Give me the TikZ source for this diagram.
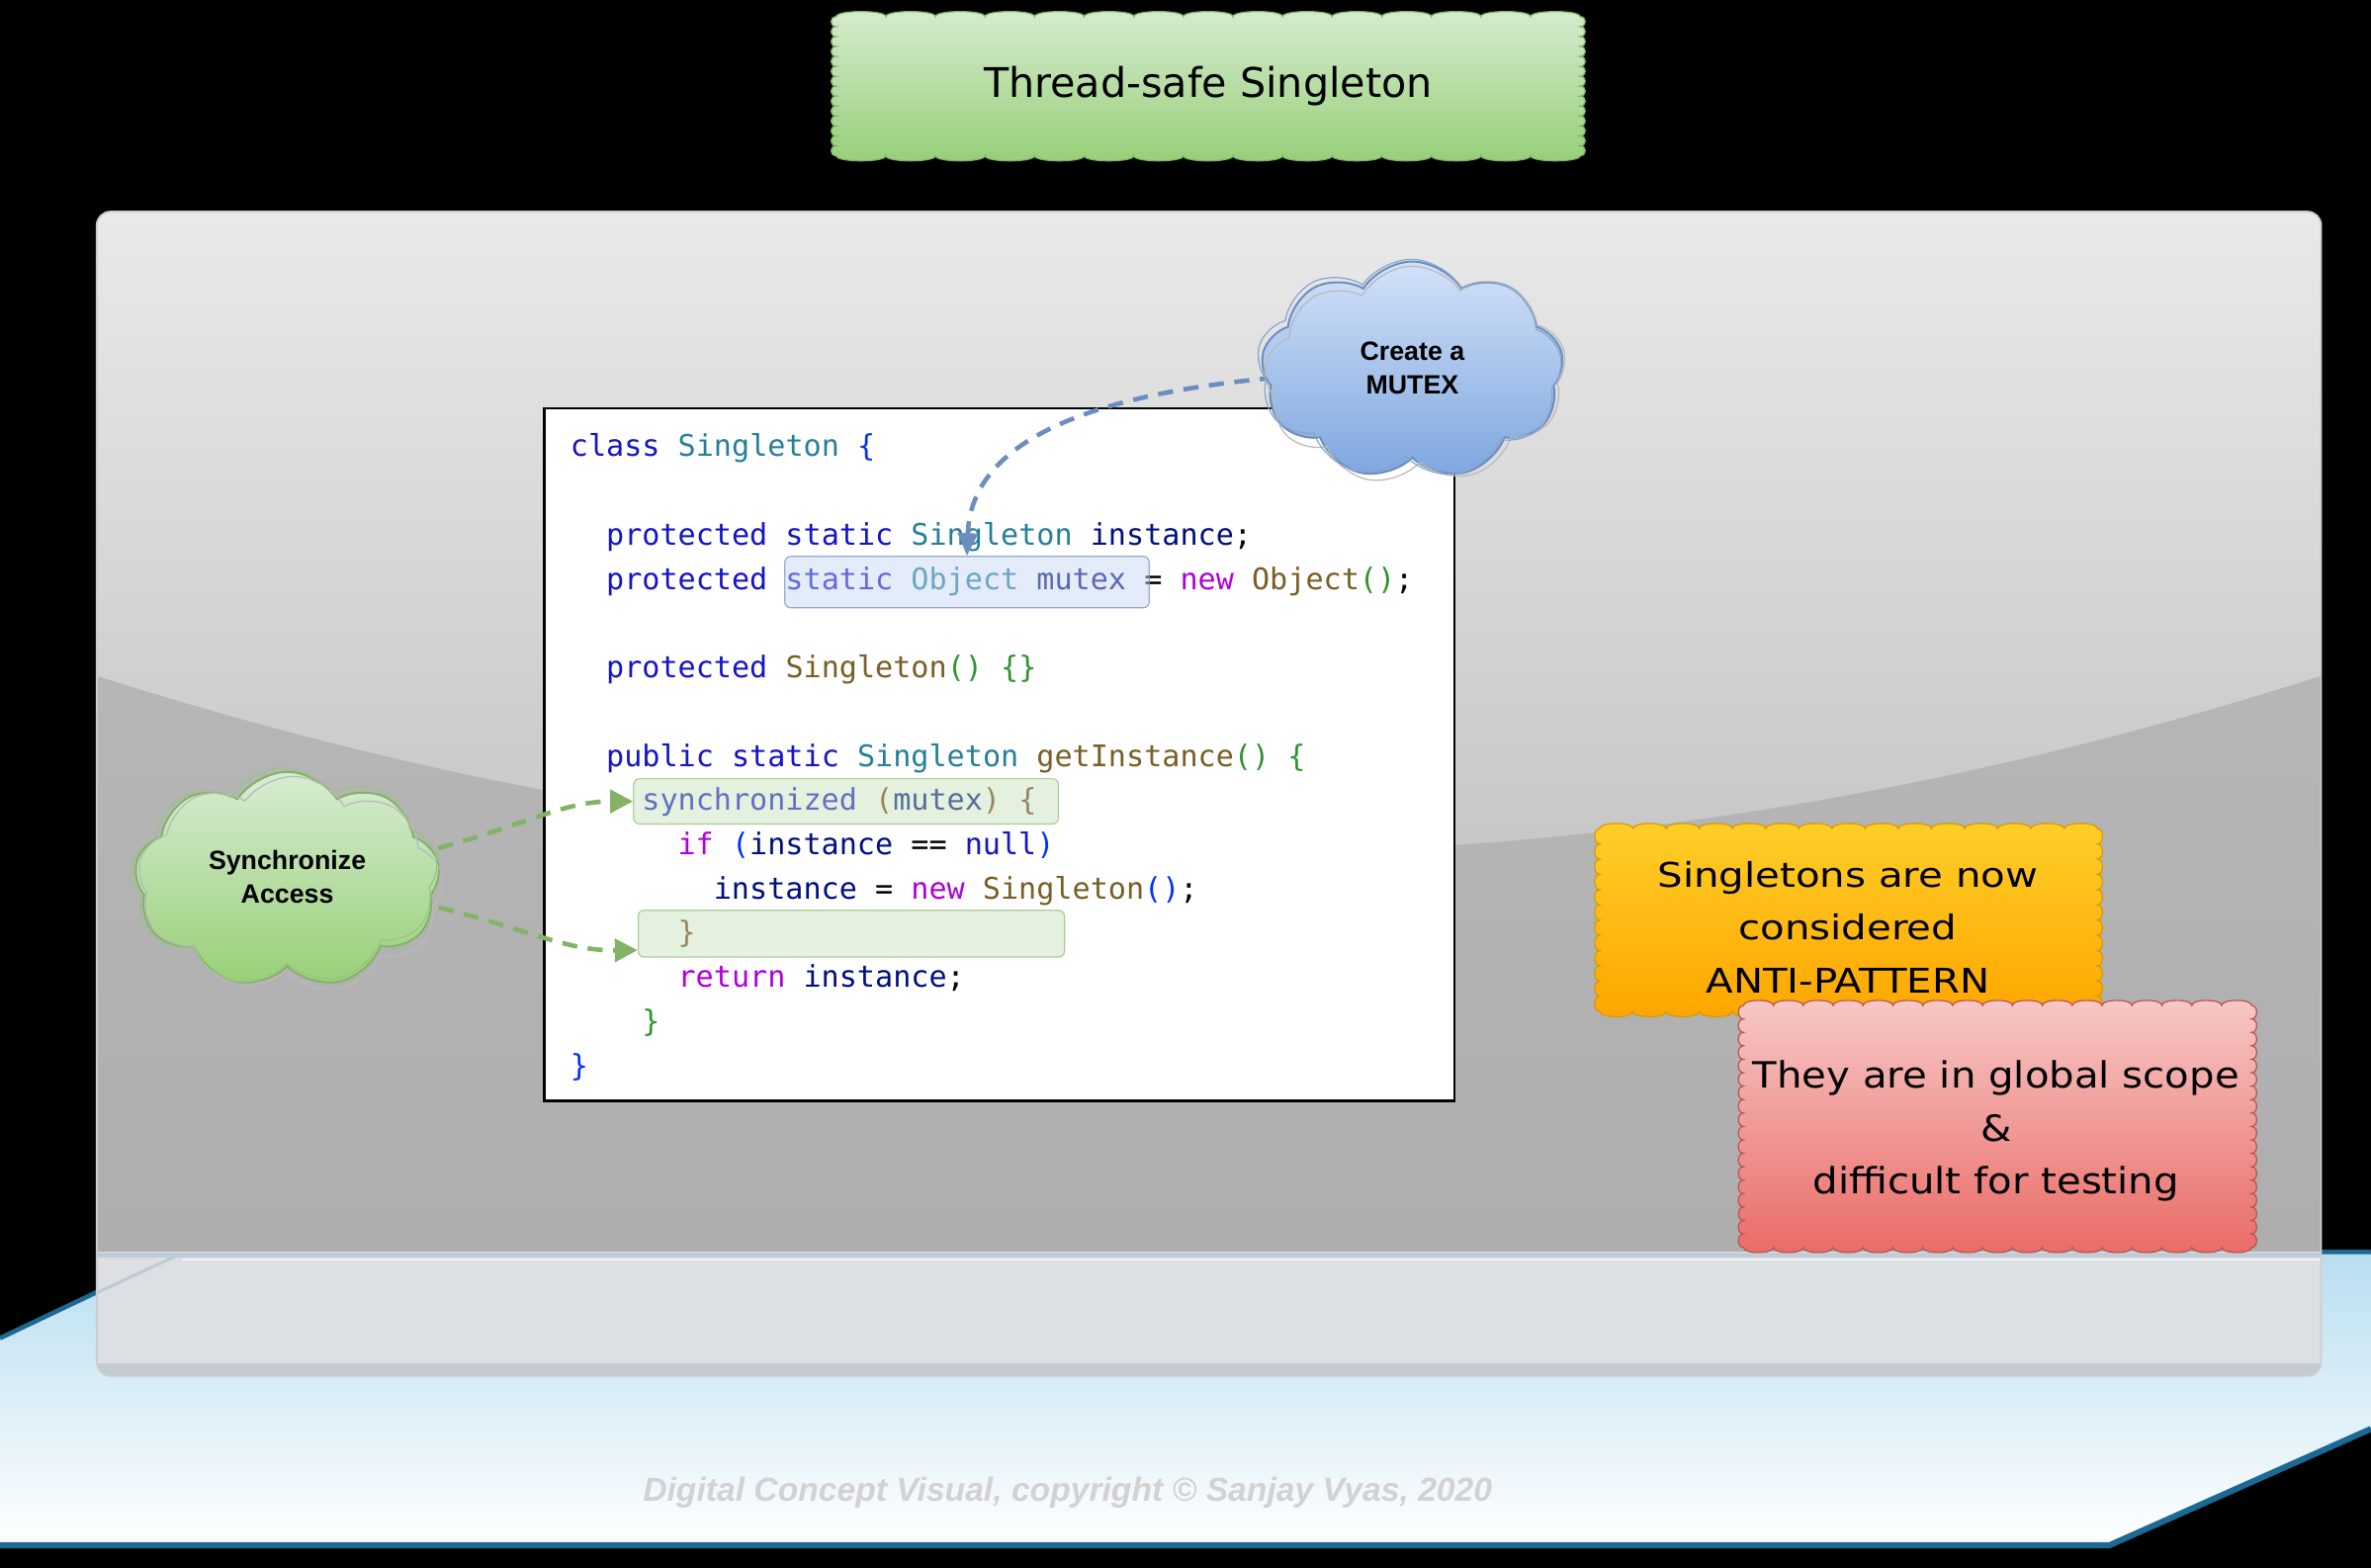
\documentclass[tikz,border=0pt]{standalone}
\usepackage{fontspec}
\setmainfont{DejaVu Sans}
\newfontfamily\orangefont{DejaVu Sans}[FakeStretch=1.17]
\newfontfamily\redfont{DejaVu Sans}[FakeStretch=1.10]
\newfontfamily\codefont{DejaVu Sans Mono}
\newfontfamily\arialfont{Liberation Sans}
\usetikzlibrary{shapes.symbols,arrows.meta}

\definecolor{kwc}{HTML}{1414C8}
\definecolor{tyc}{HTML}{267F99}
\definecolor{vac}{HTML}{001080}
\definecolor{mgc}{HTML}{AF00DB}
\definecolor{fnc}{HTML}{795E26}
\definecolor{bAc}{HTML}{0431FA}
\definecolor{bBc}{HTML}{319331}
\definecolor{bCc}{HTML}{7B3814}
\definecolor{blueEdge}{HTML}{6C8EBF}
\definecolor{greenEdge}{HTML}{82B366}
\definecolor{floorTop}{RGB}{184,222,240}
\definecolor{floorEdge}{RGB}{28,106,148}
\definecolor{panelTop}{RGB}{233,233,233}
\definecolor{panelMid}{RGB}{196,196,196}
\definecolor{panelLowA}{RGB}{182,182,182}
\definecolor{panelLowB}{RGB}{172,172,172}
\definecolor{panelFloor}{RGB}{220,224,228}
\definecolor{panelFloorLine}{RGB}{192,205,214}
\definecolor{panelFloorHi}{RGB}{240,243,245}
\definecolor{panelSlant}{RGB}{190,202,210}
\definecolor{panelShadow}{RGB}{196,203,208}
\definecolor{panelRim}{RGB}{205,205,205}
\definecolor{titleTop}{RGB}{214,235,208}
\definecolor{titleBot}{RGB}{151,207,120}
\definecolor{hlBlueFill}{RGB}{196,215,245}
\definecolor{hlGreenFill}{RGB}{196,226,186}
\definecolor{mutexTop}{RGB}{210,226,248}
\definecolor{mutexBot}{RGB}{126,166,223}
\definecolor{syncTop}{RGB}{215,236,210}
\definecolor{syncBot}{RGB}{151,208,119}
\definecolor{orangeTop}{RGB}{255,206,40}
\definecolor{orangeBot}{RGB}{255,166,0}
\definecolor{orangeEdge}{RGB}{215,155,0}
\definecolor{redTop}{RGB}{247,200,199}
\definecolor{redBot}{RGB}{234,107,102}
\definecolor{redEdge}{RGB}{184,84,80}
\definecolor{footerGray}{RGB}{210,210,210}

\newcommand\ckw[1]{\textcolor{kwc}{#1}}
\newcommand\cty[1]{\textcolor{tyc}{#1}}
\newcommand\cva[1]{\textcolor{vac}{#1}}
\newcommand\cmg[1]{\textcolor{mgc}{#1}}
\newcommand\cfn[1]{\textcolor{fnc}{#1}}
\newcommand\cbA[1]{\textcolor{bAc}{#1}}
\newcommand\cbB[1]{\textcolor{bBc}{#1}}
\newcommand\cbC[1]{\textcolor{bCc}{#1}}
\newcommand\raisedlines[1]{\raisebox{4pt}{\begin{tabular}{@{}c@{}}#1\end{tabular}}}

% scalloped rectangle: style, x1,y1,x2,y2, horizontal bump, vertical bump, amplitude
\newcommand\scallopbox[8]{%
  \pgfmathtruncatemacro\scNh{max(1,round((#4-#2)/#6))}%
  \pgfmathsetmacro\scWh{(#4-#2)/\scNh}%
  \pgfmathtruncatemacro\scNv{max(1,round((#5-#3)/#7))}%
  \pgfmathsetmacro\scWv{(#5-#3)/\scNv}%
  \path[#1] (#2,#3)
    \foreach \i in {1,...,\scNh}{ .. controls ({#2+(\i-1)*\scWh},{#3-#8}) and ({#2+\i*\scWh},{#3-#8}) .. ({#2+\i*\scWh},#3) }
    \foreach \i in {1,...,\scNv}{ .. controls ({#4+#8},{#3+(\i-1)*\scWv}) and ({#4+#8},{#3+\i*\scWv}) .. (#4,{#3+\i*\scWv}) }
    \foreach \i in {1,...,\scNh}{ .. controls ({#4-(\i-1)*\scWh},{#5+#8}) and ({#4-\i*\scWh},{#5+#8}) .. ({#4-\i*\scWh},#5) }
    \foreach \i in {1,...,\scNv}{ .. controls ({#2-#8},{#5-(\i-1)*\scWv}) and ({#2-#8},{#5-\i*\scWv}) .. (#2,{#5-\i*\scWv}) }
    -- cycle;%
}

\tikzset{
  codeline/.style={anchor=base west, inner sep=0pt, font=\codefont\fontsize{19.7}{24}\selectfont},
  hlblue/.style={rectangle, rounded corners=4pt, fill=hlBlueFill, fill opacity=0.45, draw=blueEdge, draw opacity=0.7, line width=0.8pt},
  hlgreen/.style={rectangle, rounded corners=4pt, fill=hlGreenFill, fill opacity=0.45, draw=greenEdge, draw opacity=0.6, line width=0.8pt},
  blueflow/.style={draw=blueEdge, line width=3pt, dash pattern=on 10pt off 7pt, -{Triangle[length=15pt,width=13pt]}},
  greenflow/.style={draw=greenEdge, line width=3pt, dash pattern=on 10pt off 7pt, -{Triangle[length=15pt,width=15pt]}},
  puffy/.style={cloud, cloud puffs=9, cloud puff arc=115, aspect=1.4, inner sep=0pt, align=center,
     font=\arialfont\bfseries\fontsize{17.5}{22}\selectfont},
  cloudline/.style={puffy, draw=gray!55, line width=0.8pt},
}

\begin{document}
\begin{tikzpicture}[x=1pt,y=-1pt]
\useasboundingbox (0,0) rectangle (1568,1037);
\fill[black] (0,0) rectangle (1568,1037);

% floor
\shade[top color=floorTop, bottom color=white]
  (0,885) -- (120,828) -- (1568,828) -- (1568,945) -- (1395,1022) -- (0,1022) -- cycle;
\draw[floorEdge, line width=3pt, line join=round]
  (0,885) -- (120,828) -- (1568,828);
\draw[floorEdge, line width=4pt, line join=round]
  (1568,945) -- (1395,1022) -- (0,1022);

% panel
\begin{scope}
  \clip[rounded corners=9pt] (64,140) rectangle (1535,910);
  \shade[top color=panelTop, bottom color=panelMid] (64,140) rectangle (1535,600);
  \shade[top color=panelLowA, bottom color=panelLowB]
    (64,447) .. controls (555,604) and (1045,604) .. (1535,447) -- (1535,910) -- (64,910) -- cycle;
  \fill[panelFloor] (64,828) rectangle (1535,910);
  \draw[panelFloorLine, line width=3pt] (64,830) -- (1535,830);
  \draw[panelFloorHi, line width=1pt] (120,833) -- (1535,833);
  \draw[panelSlant, line width=2pt] (64,855) -- (120,829);
  \fill[panelShadow] (64,902) rectangle (1535,910);
\end{scope}
\draw[panelRim, line width=1.2pt, rounded corners=9pt] (64,140) rectangle (1535,910);

% title
\scallopbox{top color=titleTop, bottom color=titleBot, draw=greenEdge, line width=0.8pt}{553}{11}{1045}{103}{32}{6.5}{4.5}
\node[font=\fontsize{27}{32}\selectfont] (title) at (799,57) {Thread-safe Singleton};

% code box
\node[draw=black, line width=1.5pt, fill=white, minimum width=602pt, minimum height=458pt, inner sep=0pt] (codebox) at (661,499) {};

\node[codeline] (l0) at (377,302) {\ckw{class} \cty{Singleton} \cbA{\{}};
\node[codeline] (l2) at (400.7,360.5) {\ckw{protected static} \cty{Singleton} \cva{instance};};
\node[codeline] (l3) at (400.7,389.75) {\ckw{protected static} \cty{Object} \cva{mutex} = \cmg{new} \cfn{Object}\cbB{()};};
\node[codeline] (l5) at (400.7,448.25) {\ckw{protected} \cfn{Singleton}\cbB{()} \cbB{\{\}}};
\node[codeline] (l7) at (400.7,506.75) {\ckw{public static} \cty{Singleton} \cfn{getInstance}\cbB{()} \cbB{\{}};
\node[codeline] (l8) at (424.4,536) {\ckw{synchronized} \cbC{(}\cva{mutex}\cbC{)} \cbC{\{}};
\node[codeline] (l9) at (448.1,565.25) {\cmg{if} \cbA{(}\cva{instance} == \ckw{null}\cbA{)}};
\node[codeline] (l10) at (471.8,594.5) {\cva{instance} = \cmg{new} \cfn{Singleton}\cbA{()};};
\node[codeline] (l11) at (448.1,623.75) {\cbC{\}}};
\node[codeline] (l12) at (448.1,653) {\cmg{return} \cva{instance};};
\node[codeline] (l13) at (424.4,682.25) {\cbB{\}}};
\node[codeline] (l14) at (377,711.5) {\cbA{\}}};

% highlight boxes
\node[hlblue, minimum width=241pt, minimum height=34pt, inner sep=0pt] (mutexbox) at (639.5,385) {};
\node[hlgreen, minimum width=281pt, minimum height=30pt, inner sep=0pt] (syncbox) at (559.5,530) {};
\node[hlgreen, minimum width=282pt, minimum height=31pt, inner sep=0pt] (endbox) at (563,617.5) {};

% connectors (drawn before clouds so they emerge from under them)
\draw[blueflow] (945,245) .. controls (700,248) and (642,300) .. (mutexbox.north);
\draw[greenflow] (190,582) .. controls (330,560) and (360,530) .. (syncbox.west);
\draw[greenflow] (190,582) .. controls (330,600) and (360,629) .. ([yshift=5pt]endbox.south west);

% clouds
\node[puffy, minimum width=200pt, minimum height=144pt, top color=mutexTop, bottom color=mutexBot, draw=blueEdge, line width=1.3pt] (mutexcloud) at (934,245) {\raisedlines{Create a\\MUTEX}};
\node[cloudline, minimum width=200pt, minimum height=144pt, rotate=3] (mutexcloudB) at (936,248) {};
\node[puffy, draw=blueEdge!80, line width=0.8pt, minimum width=202pt, minimum height=145pt, rotate=-2] (mutexcloudC) at (932,244) {};

\node[puffy, minimum width=202pt, minimum height=143pt, top color=syncTop, bottom color=syncBot, draw=greenEdge, line width=1.3pt] (synccloud) at (190,582) {\raisedlines{Synchronize\\Access}};
\node[cloudline, minimum width=202pt, minimum height=143pt, rotate=-3] (synccloudB) at (192,585) {};
\node[puffy, draw=greenEdge!80, line width=0.8pt, minimum width=204pt, minimum height=144pt, rotate=2] (synccloudC) at (188,580) {};

% notes
\scallopbox{top color=orangeTop, bottom color=orangeBot, draw=orangeEdge, line width=0.8pt}{1058}{548}{1387}{669}{22}{10}{4.5}
\node[align=center, font=\orangefont\fontsize{22.5}{35}\selectfont] (antinote) at (1222,613) {Singletons are now\\considered\\ANTI-PATTERN};

\scallopbox{top color=redTop, bottom color=redBot, draw=redEdge, line width=0.8pt}{1153}{665}{1489}{825}{20}{9}{4.5}
\node[align=center, font=\redfont\fontsize{23.9}{35}\selectfont] (scopenote) at (1320,748) {They are in global scope\\\&\\difficult for testing};

% footer
\node[font=\arialfont\bfseries\itshape\fontsize{22}{26}\selectfont, text=footerGray] (footer) at (706,987) {Digital Concept Visual, copyright © Sanjay Vyas, 2020};
\end{tikzpicture}
\end{document}
